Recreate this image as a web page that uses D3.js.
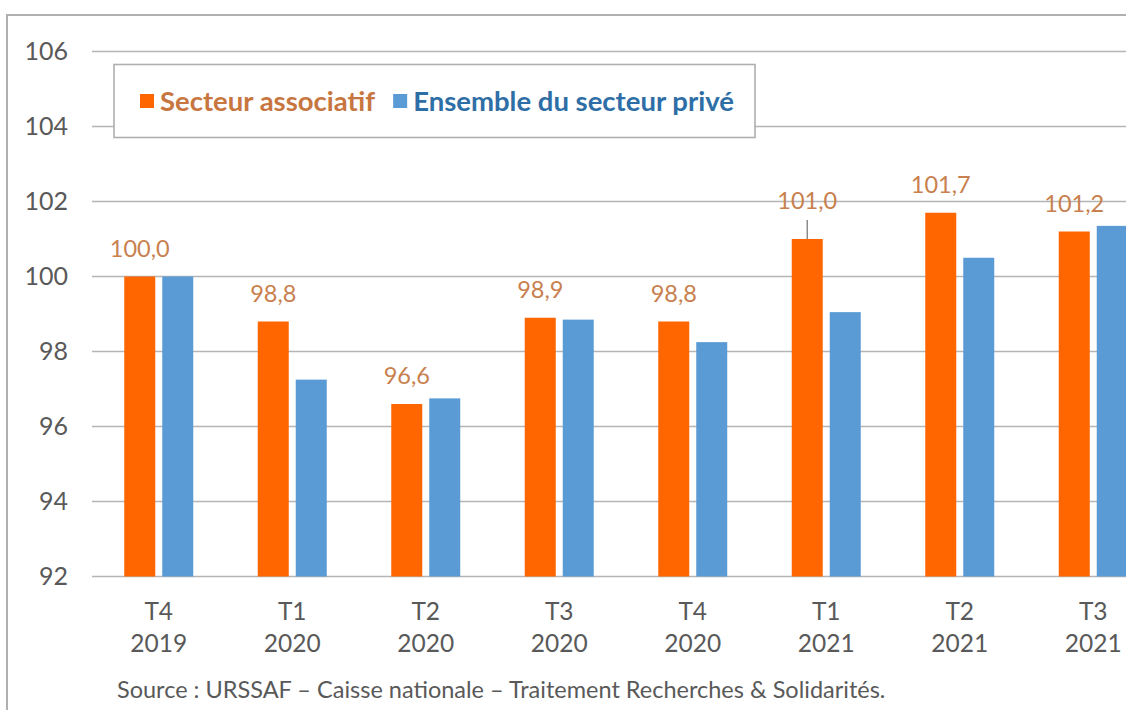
<!DOCTYPE html>
<html>
<head>
<meta charset="utf-8">
<script src="https://cdn.jsdelivr.net/npm/d3@7"></script>
<style>
  html, body { margin: 0; padding: 0; background: #fff; }
  svg { display: block; font-family: Lato, "Open Sans", sans-serif; }
</style>
</head>
<body>
<div id="chart"></div>
<script>
// Index de l'emploi, base 100 au T4 2019
const quarters = ["T4", "T1", "T2", "T3", "T4", "T1", "T2", "T3"];
const years = ["2019", "2020", "2020", "2020", "2020", "2021", "2021", "2021"];
const associatif = [100.0, 98.8, 96.6, 98.9, 98.8, 101.0, 101.7, 101.2];
const prive = [100.0, 97.25, 96.75, 98.85, 98.25, 99.05, 100.5, 101.35];
const yTicks = [92, 94, 96, 98, 100, 102, 104, 106];

const SERIES = [
  { key: "associatif", label: "Secteur associatif", color: "#ff6600", text: "#c8763f", values: associatif },
  { key: "prive", label: "Ensemble du secteur privé", color: "#5b9bd5", text: "#2e6ea6", values: prive },
];

const width = 1126, height = 710;
const svg = d3.select("#chart").append("svg").attr("width", width).attr("height", height);

// outer frame (cropped on right and bottom in the original)
svg.append("rect")
  .attr("x", 7).attr("y", 15)
  .attr("width", width + 20).attr("height", height + 20)
  .attr("fill", "none").attr("stroke", "#b0b0b0").attr("stroke-width", 2);

const idx = d3.range(quarters.length);
const x0 = d3.scaleBand().domain(idx).range([92, 1160]).padding(0);
const x1 = d3.scaleBand().domain(SERIES.map((s) => s.key))
  .range([x0.bandwidth() / 2 - 34.5, x0.bandwidth() / 2 + 34.5]).paddingInner(0.184);
const y = d3.scaleLinear().domain([92, 106]).range([576.5, 51.5]);

// gridlines
svg.append("g")
  .selectAll("line")
  .data(yTicks)
  .join("line")
  .attr("x1", 92).attr("x2", width)
  .attr("y1", (d) => y(d)).attr("y2", (d) => y(d))
  .attr("stroke", "#b5b5b5").attr("stroke-width", 1.6);

// y tick labels
svg.append("g")
  .selectAll("text")
  .data(yTicks)
  .join("text")
  .attr("x", 68).attr("y", (d) => y(d))
  .attr("dy", "0.35em")
  .attr("text-anchor", "end")
  .attr("fill", "#595959")
  .attr("font-size", 25)
  .text((d) => d);

// bars
const groups = svg.append("g")
  .selectAll("g")
  .data(idx)
  .join("g")
  .attr("transform", (i) => `translate(${x0(i)},0)`);

groups.selectAll("rect")
  .data((i) => SERIES.map((s) => ({ key: s.key, color: s.color, value: s.values[i] })))
  .join("rect")
  .attr("x", (d) => x1(d.key))
  .attr("width", x1.bandwidth())
  .attr("y", (d) => y(d.value))
  .attr("height", (d) => y(92) - y(d.value))
  .attr("fill", (d) => d.color);

// data labels for the associative sector
const fmt = (v) => v.toFixed(1).replace(".", ",");
groups.each(function (i) {
  const g = d3.select(this);
  const v = associatif[i];
  const cx = x1("associatif") + x1.bandwidth() / 2;
  const top = y(v);
  const lifted = i === 5; // label pushed up with a leader line
  const ty = lifted ? top - 38 : top - 28;
  if (lifted) {
    g.append("line")
      .attr("x1", cx).attr("x2", cx)
      .attr("y1", ty + 19).attr("y2", top)
      .attr("stroke", "#8c8c8c").attr("stroke-width", 1.5);
  }
  g.append("text")
    .attr("x", cx).attr("y", ty)
    .attr("dy", "0.35em")
    .attr("text-anchor", "middle")
    .attr("fill", "#c8804e")
    .attr("font-size", 23.5)
    .text(fmt(v));
});

// x labels (two lines)
const xl = svg.append("g")
  .selectAll("text")
  .data(idx)
  .join("text")
  .attr("text-anchor", "middle")
  .attr("fill", "#595959")
  .attr("font-size", 24.5);
xl.append("tspan").attr("x", (i) => x0(i) + x0.bandwidth() / 2).attr("y", 620).text((i) => quarters[i]);
xl.append("tspan").attr("x", (i) => x0(i) + x0.bandwidth() / 2).attr("y", 652).text((i) => years[i]);

// legend
const legend = svg.append("g");
legend.append("rect")
  .attr("x", 114).attr("y", 64.5)
  .attr("width", 641).attr("height", 73)
  .attr("fill", "#fff").attr("stroke", "#b0b0b0").attr("stroke-width", 1.6);

let lx = 140;
SERIES.forEach((s) => {
  legend.append("rect")
    .attr("x", lx).attr("y", 94).attr("width", 14).attr("height", 14)
    .attr("fill", s.color);
  const t = legend.append("text")
    .attr("x", lx + 20).attr("y", 101.5)
    .attr("dy", "0.35em")
    .attr("fill", s.text)
    .attr("font-size", 27.5)
    .attr("font-weight", "bold")
    .text(s.label);
  lx += 20 + t.node().getComputedTextLength() + 18;
});

// source
svg.append("text")
  .attr("x", 117).attr("y", 690)
  .attr("dy", "0.35em")
  .attr("fill", "#595959")
  .attr("font-size", 23.5)
  .text("Source : URSSAF – Caisse nationale – Traitement Recherches & Solidarités.");
</script>
</body>
</html>
